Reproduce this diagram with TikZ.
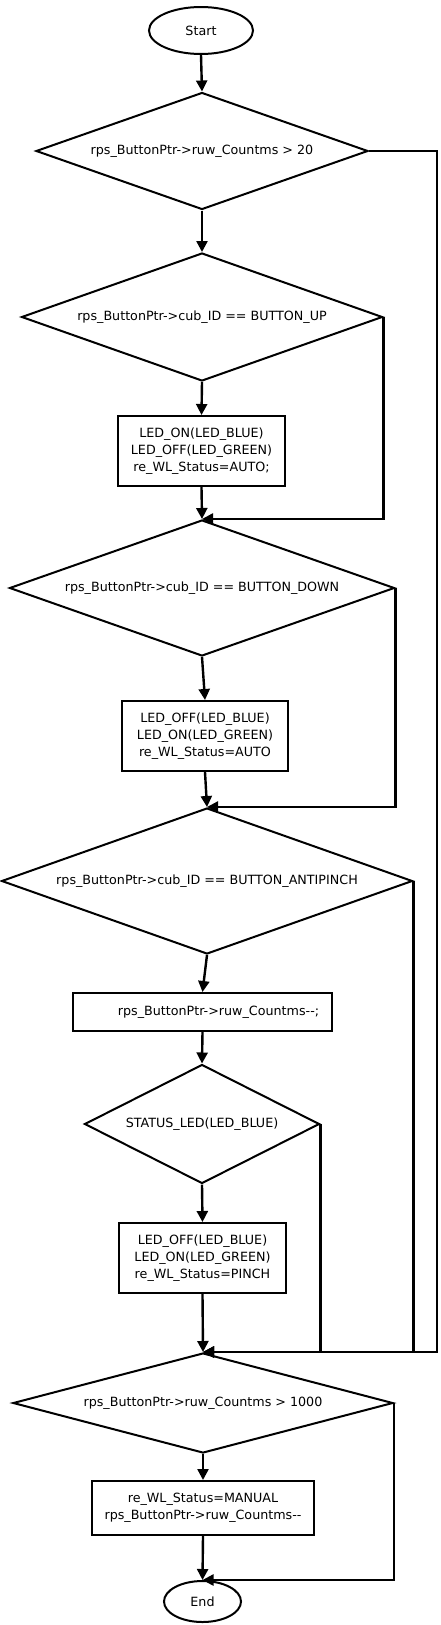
\documentclass[tikz,border=0pt]{standalone}
\usepackage{fontspec}
\setmainfont{DejaVu Sans}
\usetikzlibrary{shapes.geometric,arrows.meta}
\begin{document}
\begin{tikzpicture}[x=1pt,y=-1pt,
  base/.style={draw, line width=2pt, inner sep=0pt, font=\fontsize{12.7}{16.7}\selectfont, align=center},
  dec/.style={base, diamond},
  proc/.style={base, rectangle},
  term/.style={base, ellipse},
  conn/.style={line width=2.4pt, -{Triangle[width=11pt,length=11pt]}},
  wire/.style={line width=2.4pt}]
\useasboundingbox (0,0) rectangle (441,1625);
\node[term, minimum width=104pt, minimum height=47pt] (start) at (201,30.5) {Start};
\node[dec, aspect=2.84, minimum width=332pt, minimum height=117pt] (d1) at (202,151) {rps\_ButtonPtr->ruw\_Countms > 20};
\node[dec, aspect=2.82, minimum width=361pt, minimum height=128pt] (d2) at (202,317) {rps\_ButtonPtr->cub\_ID == BUTTON\_UP};
\node[proc, minimum width=167pt, minimum height=70pt] (b1) at (201.5,451) {LED\_ON(LED\_BLUE)\\LED\_OFF(LED\_GREEN)\\re\_WL\_Status=AUTO;};
\node[dec, aspect=2.83, minimum width=385pt, minimum height=136pt] (d3) at (202,588) {rps\_ButtonPtr->cub\_ID == BUTTON\_DOWN};
\node[proc, minimum width=166pt, minimum height=70pt] (b2) at (205,736) {LED\_OFF(LED\_BLUE)\\LED\_ON(LED\_GREEN)\\re\_WL\_Status=AUTO};
\node[dec, aspect=2.8, minimum width=411pt, minimum height=146pt] (d4) at (207,881) {rps\_ButtonPtr->cub\_ID == BUTTON\_ANTIPINCH};
\node[proc, minimum width=259pt, minimum height=38pt] (b3) at (202.5,1012) {\hspace*{32pt}rps\_ButtonPtr->ruw\_Countms-{}-;};
\node[dec, aspect=1.97, minimum width=235pt, minimum height=119pt] (d5) at (202,1124) {STATUS\_LED(LED\_BLUE)};
\node[proc, minimum width=167pt, minimum height=70pt] (b4) at (202.5,1258) {LED\_OFF(LED\_BLUE)\\LED\_ON(LED\_GREEN)\\re\_WL\_Status=PINCH};
\node[dec, aspect=3.8, minimum width=380pt, minimum height=100pt] (d6) at (203,1403) {rps\_ButtonPtr->ruw\_Countms > 1000};
\node[proc, minimum width=222pt, minimum height=54pt] (b5) at (203,1508) {re\_WL\_Status=MANUAL\\rps\_ButtonPtr->ruw\_Countms-{}-};
\node[term, minimum width=77pt, minimum height=41pt] (end) at (202.5,1601.5) {End};
\coordinate (r1) at (437,151);
\draw[conn] (start.south) -- (d1.north);
\draw[conn] (d1.south) -- (d2.north);
\draw[conn] (d2.south) -- (b1.north);
\draw[conn] (b1.south) -- (d3.north);
\draw[conn] (d3.south) -- (b2.north);
\draw[conn] (b2.south) -- (d4.north);
\draw[conn] (d4.south) -- (b3.north);
\draw[conn] (b3.south) -- (d5.north);
\draw[conn] (d5.south) -- (b4.north);
\draw[conn] (b4.south) -- (d6.north);
\draw[conn] (d6.south) -- (b5.north);
\draw[conn] (b5.south) -- (end.north);
\draw[conn] (d1.east) -- (r1) |- (d6.north);
\draw[conn] (d2.east) |- (d3.north);
\draw[conn] (d3.east) |- (d4.north);
\draw[conn] (d4.east) |- (d6.north);
\draw[conn] (d5.east) |- (d6.north);
\draw[conn] (d6.east) |- (end.north);
\end{tikzpicture}
\end{document}
